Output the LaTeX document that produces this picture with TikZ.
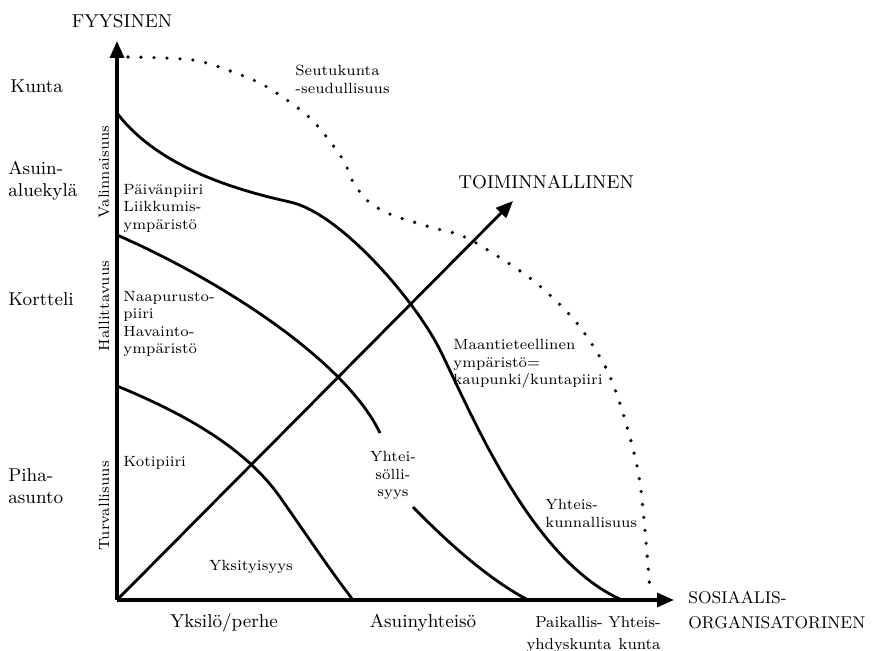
\documentclass[tikz,border=0pt]{standalone}
\usepackage{fontspec}
\usetikzlibrary{arrows.meta}

\tikzset{
  axis/.style={line width=1.7pt, -{Triangle[length=8.5pt,width=7pt]}},
  zone/.style={line width=1.4pt, line join=round},
  reach/.style={line width=1.8pt, line cap=round, dash pattern=on 0pt off 6.5pt},
  big/.style={font=\fontsize{9.3}{11}\selectfont, inner sep=0pt},
  mid/.style={font=\fontsize{7.9}{11}\selectfont, inner sep=0pt, align=center},
  small/.style={font=\fontsize{7.4}{8.7}\selectfont, inner sep=0pt, align=left},
}

\begin{document}
\begin{tikzpicture}[x=0.5pt,y=-0.5pt]
\useasboundingbox (0,0) rectangle (878,651);

\coordinate (O) at (117,600);
\coordinate (fyys) at (117,41);
\coordinate (sos) at (674,600);
\coordinate (toim) at (513,201);

\draw[axis] (O) -- (fyys);
\draw[axis] (O) -- (sos);
\draw[axis, line width=1.4pt] (O) -- (toim);

% rajat
\draw[zone] (117,386) .. controls (200,420) and (250,455) .. (280,497)
                      .. controls (310,540) and (330,570) .. (353,600);
\draw[zone] (117,235) .. controls (220,280) and (345,360) .. (380,433);
\draw[zone] (413,507) .. controls (450,545) and (490,580) .. (528,600);
\draw[zone] (117,113) .. controls (160,170) and (245,192) .. (290,202)
                      .. controls (340,213) and (415,300) .. (440,350)
                      .. controls (470,410) and (530,560) .. (622,600);
\draw[reach] plot[smooth] coordinates {(128,57) (193,60) (233,72) (267,87) (310,118) (342,158) (353,182) (369,202) (392,215) (430,227) (467,238) (523,273) (553,298) (580,327) (607,370) (625,420) (640,483) (650,590)};

% akselit
\node[big, anchor=base] (fyystitle) at (122,28) {FYYSINEN};
\node[big, anchor=base west] (toimtitle) at (458,189) {TOIMINNALLINEN};
\node[big, anchor=north west, align=left, font=\fontsize{8.5}{11}\selectfont] (sostitle) at (688,591) {SOSIAALIS-\\[1.5pt]ORGANISATORINEN};

\node[big, anchor=base west] (kunta) at (10,93) {Kunta};
\node[big, anchor=north west, align=left] (asuinalue) at (8,161) {Asuin-\\aluekylä};
\node[big, anchor=base west] (kortteli) at (8,306) {Kortteli};
\node[big, anchor=north west, align=left] (piha) at (8,468) {Piha-\\asunto};

\node[small, rotate=90] (valinn) at (104,172) {Valinnaisuus};
\node[small, rotate=90] (hallit) at (104,306) {Hallittavuus};
\node[small, rotate=90] (turval) at (104,506) {Turvallisuus};

\node[big, anchor=base] (yksilo) at (224,627) {Yksilö/perhe};
\node[big, anchor=base] (asuinyht) at (423,627) {Asuinyhteisö};
\node[mid, anchor=north] (paikal) at (569,616) {Paikallis-\\yhdyskunta};
\node[mid, anchor=north east, align=right] (yhtkunta) at (661,616) {Yhteis-\\kunta};

% piirit
\node[small, anchor=north west] (seutu) at (295,65) {Seutukunta\\-seudullisuus};
\node[small, anchor=north west] (paiva) at (123,184) {Päivänpiiri\\Liikkumis-\\ympäristö};
\node[small, anchor=north west] (naapuri) at (123,291) {Naapurusto-\\piiri\\Havainto-\\ympäristö};
\node[small, anchor=base west] (koti) at (123,467) {Kotipiiri};
\node[small, anchor=base] (yksit) at (251,571) {Yksityisyys};
\node[small, anchor=north, align=center] (yhteiso) at (393,451) {Yhtei-\\sölli-\\syys};
\node[small, anchor=north west] (maant) at (453,339) {Maantieteellinen\\ympäristö=\\kaupunki/kuntapiiri};
\node[small, anchor=north west] (yhtk) at (545,499) {Yhteis-\\kunnallisuus};
\end{tikzpicture}
\end{document}
